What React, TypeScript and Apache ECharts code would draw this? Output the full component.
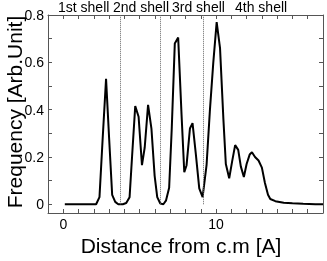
import React, { useEffect, useRef } from "react";
import * as echarts from "echarts";

const distance: number[] = [
  0.1, 1.0, 2.15, 2.37, 2.58, 2.8, 3.0, 3.2, 3.4, 3.6, 3.9, 4.12, 4.34, 4.52, 4.71, 4.93,
  5.15, 5.33, 5.55, 5.77, 5.98, 6.15, 6.35, 6.55, 6.72, 6.93, 7.1, 7.3, 7.52, 7.74,
  7.92, 8.07, 8.29, 8.46, 8.68, 8.9, 9.12, 9.38, 9.6, 9.82, 10.04, 10.26, 10.48, 10.64,
  10.86, 11.05, 11.25, 11.45, 11.62, 11.82, 12.0, 12.2, 12.35, 12.55, 12.78, 13.0, 13.2,
  13.4, 13.55, 13.88, 14.43, 15.0, 15.7, 16.5, 17.0,
];
const frequency: number[] = [
  0, 0, 0, 0.03, 0.28, 0.53, 0.28, 0.04, 0.01, 0.0, 0.0, 0.005, 0.03, 0.22, 0.415, 0.37,
  0.165, 0.24, 0.42, 0.32, 0.12, 0.03, 0.003, 0.0, 0.015, 0.07, 0.32, 0.68, 0.705, 0.38,
  0.135, 0.165, 0.32, 0.343, 0.21, 0.067, 0.03, 0.166, 0.4, 0.6, 0.77, 0.66, 0.36, 0.17,
  0.11, 0.18, 0.25, 0.23, 0.16, 0.115, 0.17, 0.21, 0.22, 0.2, 0.185, 0.155, 0.09,
  0.04, 0.022, 0.013, 0.006, 0.004, 0.002, 0.0, 0.0,
];
const shellBoundaries: number[] = [3.74, 6.34, 9.18];
const shellLabels: string[] = ["1st shell", "2nd shell", "3rd shell", "4th shell"];
const xTickLabels: number[] = [0, 10];
const yTickLabels: number[] = [0, 0.2, 0.4, 0.6, 0.8];
const xTicks: number[] = Array.from({ length: 19 }, (_, i) => i - 1);
const yTicks: number[] = [0, 0.1, 0.2, 0.3, 0.4, 0.5, 0.6, 0.7, 0.8];

const FONT = "Liberation Sans, Arial, Helvetica, sans-serif";
const FRAME = "#555";

export default function App() {
  const ref = useRef<HTMLDivElement>(null);
  useEffect(() => {
    if (!ref.current) return;
    const chart = echarts.init(ref.current, null, { renderer: "svg" });
    const axisLine = { show: true, onZero: false, lineStyle: { color: FRAME, width: 1 } };
    const xBase = {
      type: "value" as const,
      min: -1,
      max: 17,
      axisLine,
      splitLine: { show: false },
      axisTick: { show: true, inside: true, length: 4, customValues: xTicks, lineStyle: { color: FRAME } },
    };
    const yBase = {
      type: "value" as const,
      min: -0.037,
      max: 0.8,
      axisLine,
      splitLine: { show: false },
      axisTick: { show: true, inside: true, length: 4, customValues: yTicks, lineStyle: { color: FRAME } },
    };
    const shellX = [58, 113, 172, 235];
    chart.setOption({
      animation: false,
      grid: { left: 48, right: 4, top: 15, bottom: 48 },
      xAxis: [
        {
          ...xBase,
          position: "bottom",
          axisLabel: { customValues: xTickLabels, fontSize: 14, color: "#000", fontFamily: FONT, margin: 4 },
        },
        { ...xBase, position: "top", axisLabel: { show: false } },
      ],
      yAxis: [
        {
          ...yBase,
          position: "left",
          axisLabel: {
            customValues: yTickLabels,
            fontSize: 14,
            color: "#000",
            fontFamily: FONT,
            margin: 4,
            formatter: (v: number) => (v === 0 ? "0" : String(Math.round(v * 10) / 10)),
          },
        },
        { ...yBase, position: "right", axisLabel: { show: false } },
      ],
      series: [
        {
          type: "line",
          xAxisIndex: 0,
          yAxisIndex: 0,
          data: distance.map((d, i) => [d, frequency[i]]),
          showSymbol: false,
          lineStyle: { color: "#000", width: 2 },
          z: 3,
          markLine: {
            silent: true,
            symbol: "none",
            label: { show: false },
            lineStyle: { color: "#666", width: 1, type: "dotted" },
            data: shellBoundaries.map((b) => [{ coord: [b, 0] }, { coord: [b, 0.8] }]),
          },
        },
      ],
      graphic: [
        ...shellLabels.map((t, i) => ({
          type: "text",
          left: shellX[i],
          top: 0,
          style: { text: t, fontSize: 14, fontFamily: FONT, fill: "#000" },
        })),
        {
          type: "text",
          x: 14,
          y: 112,
          rotation: Math.PI / 2,
          style: {
            text: "Frequency [Arb.Unit]",
            fontSize: 21,
            fontFamily: FONT,
            fill: "#000",
            align: "center",
            verticalAlign: "middle",
          },
        },
        {
          type: "text",
          x: 181,
          y: 245,
          style: {
            text: "Distance from c.m [A]",
            fontSize: 21,
            fontFamily: FONT,
            fill: "#000",
            align: "center",
            verticalAlign: "middle",
          },
        },
      ],
    });
    return () => chart.dispose();
  }, []);
  return <div ref={ref} style={{ position: "fixed", left: 0, top: 0, width: 327, height: 261 }} />;
}
